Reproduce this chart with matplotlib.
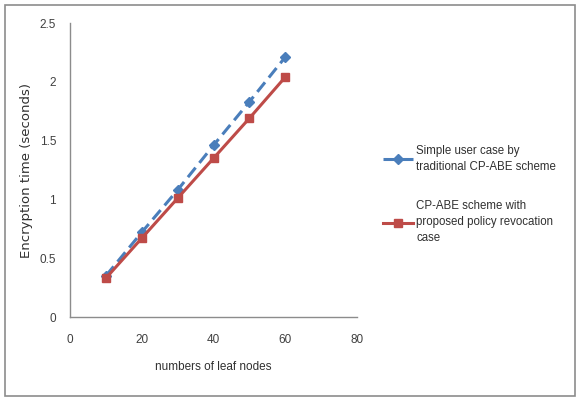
import matplotlib
matplotlib.use('Agg')
import matplotlib.pyplot as plt
from matplotlib.patches import Rectangle

LEAF_NODES = [10, 20, 30, 40, 50, 60]
TRADITIONAL = [0.35, 0.72, 1.08, 1.46, 1.83, 2.21]
PROPOSED = [0.33, 0.67, 1.01, 1.35, 1.69, 2.04]
X_TICKS = [0, 20, 40, 60, 80]
Y_TICKS = [0, 0.5, 1, 1.5, 2, 2.5]
Y_TICK_LABELS = ['0', '0.5', '1', '1.5', '2', '2.5']
LABEL_TRADITIONAL = 'Simple user case by\ntraditional CP-ABE scheme'
LABEL_PROPOSED = 'CP-ABE scheme with\nproposed policy revocation\ncase'

NARROW = ['Liberation Sans Narrow', 'Liberation Sans', 'DejaVu Sans']

W, H = 581, 400
fig = plt.figure(figsize=(W / 100.0, H / 100.0), dpi=100)
fig.patch.set_facecolor('white')

# outer chart frame
fig.patches.append(Rectangle((5 / W, 4 / H), 570 / W, 391 / H,
                             transform=fig.transFigure, fill=False,
                             edgecolor='#8c8c8c', linewidth=1.2))

ax = fig.add_axes([70 / W, 1 - 317 / H, 287 / W, 294 / H])
ax.plot(LEAF_NODES, TRADITIONAL, color='#4a7ebb', linestyle=(0, (4, 2)),
        linewidth=2.2, marker='D', markersize=5, label=LABEL_TRADITIONAL)
ax.plot(LEAF_NODES, PROPOSED, color='#be4b48', linestyle='-',
        linewidth=2.2, marker='s', markersize=6, label=LABEL_PROPOSED)

ax.set_xlim(0, 80)
ax.set_ylim(0, 2.5)
ax.set_xticks(X_TICKS)
ax.set_yticks(Y_TICKS)
ax.set_yticklabels(Y_TICK_LABELS)
ax.tick_params(axis='x', length=0, pad=12, labelsize=8.5, colors='#404040')
ax.tick_params(axis='y', length=0, pad=10, labelsize=8.5, colors='#404040')
for lbl in ax.get_xticklabels() + ax.get_yticklabels():
    lbl.set_family(NARROW)
for side in ('top', 'right'):
    ax.spines[side].set_visible(False)
for side in ('left', 'bottom'):
    ax.spines[side].set_color('#8c8c8c')
    ax.spines[side].set_linewidth(1.0)

ax.set_xlabel('numbers of leaf nodes', family=NARROW, fontsize=8.5,
              color='#303030', labelpad=11)
ax.set_ylabel('Encryption time (seconds)', fontsize=9.5, color='#303030',
              labelpad=5)

leg = fig.legend(loc='upper left', bbox_to_anchor=(378 / W, 1 - 140 / H),
                 frameon=False, prop={'family': NARROW, 'size': 8.3},
                 handlelength=2.6, labelspacing=2.4, handletextpad=0.3,
                 borderaxespad=0)
for t in leg.get_texts():
    t.set_color('#303030')
    t.set_linespacing(1.45)

fig.savefig('out.png', dpi=100)
